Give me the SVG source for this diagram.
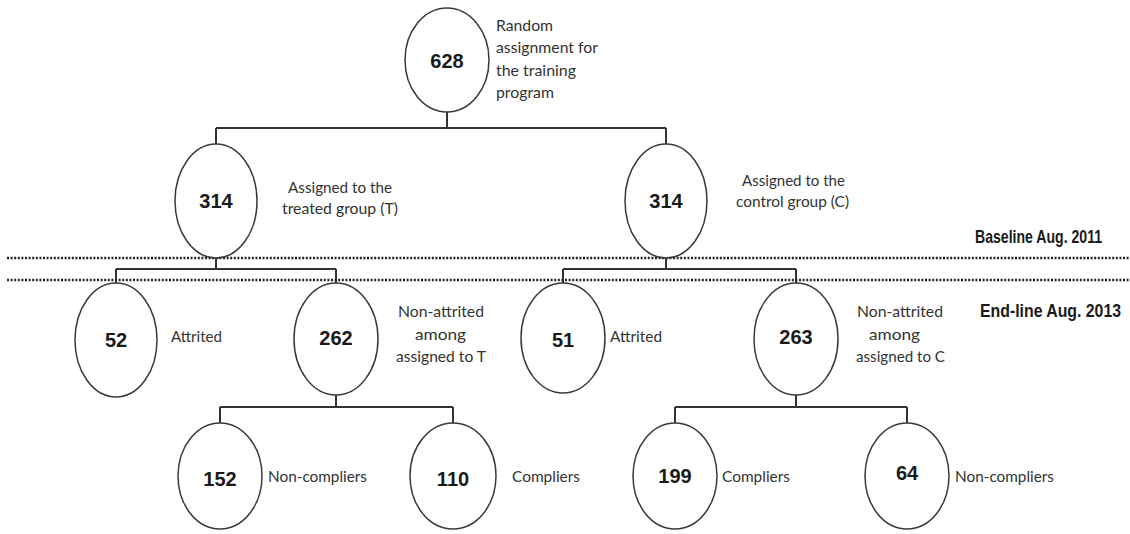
<svg xmlns="http://www.w3.org/2000/svg" width="1130" height="534" viewBox="0 0 1130 534">
<style>
.node ellipse{fill:#fff;stroke:#3a3a3a;stroke-width:1.5}
.num{font-family:"Liberation Sans",Arial,sans-serif;font-weight:bold;font-size:20px;fill:#1a1a1a;text-anchor:middle}
.lbl{font-family:Lato,"Liberation Sans",sans-serif;font-size:15px;fill:#333}
.period{font-family:"Liberation Sans",Arial,sans-serif;font-weight:bold;font-size:18px;fill:#1a1a1a}
.conn{stroke:#333;stroke-width:2;fill:none}
.dots{stroke:#222;stroke-width:2.5;stroke-dasharray:2 1.6;fill:none}
</style>
<rect width="1130" height="534" fill="#fff"/>
<g id="connectors">
<path class="conn" d="M447 112V128M216 128H666M216 128V144M666 128V144"/>
<path class="conn" d="M216 258V269M116 269H336M116 269V283M336 269V283"/>
<path class="conn" d="M666 258V269M563 269H796M563 269V283M796 269V283"/>
<path class="conn" d="M336 393V407M220 407H453M220 407V423M453 407V423"/>
<path class="conn" d="M796 393V407M675 407H907M675 407V423M907 407V423"/>
</g>
<g id="timeline">
<line class="dots" x1="7" y1="258" x2="1130" y2="258"/>
<line class="dots" x1="7" y1="280" x2="1130" y2="280"/>
<text class="period" transform="translate(975 243) scale(0.82 1)" x="0" y="0" textLength="155" lengthAdjust="spacingAndGlyphs">Baseline Aug. 2011</text>
<text class="period" transform="translate(980 317) scale(0.82 1)" x="0" y="0" textLength="172" lengthAdjust="spacingAndGlyphs">End-line Aug. 2013</text>
</g>
<g id="n628" class="node">
<ellipse cx="447" cy="60" rx="42" ry="52"/>
<text class="num" x="447" y="68">628</text>
<text class="lbl" x="496" y="31" textLength="57" lengthAdjust="spacingAndGlyphs">Random</text>
<text class="lbl" x="496" y="53" textLength="102" lengthAdjust="spacingAndGlyphs">assignment for</text>
<text class="lbl" x="496" y="76" textLength="80" lengthAdjust="spacingAndGlyphs">the training</text>
<text class="lbl" x="496" y="98" textLength="58" lengthAdjust="spacingAndGlyphs">program</text>
</g>
<g id="n314T" class="node">
<ellipse cx="216" cy="201" rx="41" ry="57"/>
<text class="num" x="216" y="208">314</text>
<text class="lbl" x="288" y="193" textLength="104" lengthAdjust="spacingAndGlyphs">Assigned to the</text>
<text class="lbl" x="282" y="214" textLength="116" lengthAdjust="spacingAndGlyphs">treated group (T)</text>
</g>
<g id="n314C" class="node">
<ellipse cx="666" cy="201" rx="41" ry="57"/>
<text class="num" x="666" y="208">314</text>
<text class="lbl" x="742" y="186" textLength="103" lengthAdjust="spacingAndGlyphs">Assigned to the</text>
<text class="lbl" x="736" y="207" textLength="113" lengthAdjust="spacingAndGlyphs">control group (C)</text>
</g>
<g id="n52" class="node">
<ellipse cx="116" cy="340" rx="41" ry="57"/>
<text class="num" x="116" y="347">52</text>
<text class="lbl" x="171" y="342" textLength="51" lengthAdjust="spacingAndGlyphs">Attrited</text>
</g>
<g id="n262" class="node">
<ellipse cx="336" cy="339" rx="42" ry="56"/>
<text class="num" x="336" y="345">262</text>
<text class="lbl" x="398" y="317" textLength="86" lengthAdjust="spacingAndGlyphs">Non-attrited</text>
<text class="lbl" x="415" y="340" textLength="51" lengthAdjust="spacingAndGlyphs">among</text>
<text class="lbl" x="396" y="362" textLength="90" lengthAdjust="spacingAndGlyphs">assigned to T</text>
</g>
<g id="n51" class="node">
<ellipse cx="563" cy="338" rx="42" ry="55"/>
<text class="num" x="563" y="347">51</text>
<text class="lbl" x="610" y="342" textLength="52" lengthAdjust="spacingAndGlyphs">Attrited</text>
</g>
<g id="n263" class="node">
<ellipse cx="796" cy="339" rx="42" ry="56"/>
<text class="num" x="796" y="344">263</text>
<text class="lbl" x="857" y="317" textLength="86" lengthAdjust="spacingAndGlyphs">Non-attrited</text>
<text class="lbl" x="869" y="340" textLength="51" lengthAdjust="spacingAndGlyphs">among</text>
<text class="lbl" x="856" y="362" textLength="89" lengthAdjust="spacingAndGlyphs">assigned to C</text>
</g>
<g id="n152" class="node">
<ellipse cx="220" cy="476" rx="42" ry="53"/>
<text class="num" x="220" y="486">152</text>
<text class="lbl" x="268" y="482" textLength="99" lengthAdjust="spacingAndGlyphs">Non-compliers</text>
</g>
<g id="n110" class="node">
<ellipse cx="453" cy="476" rx="43" ry="53"/>
<text class="num" x="453" y="486">110</text>
<text class="lbl" x="512" y="482" textLength="68" lengthAdjust="spacingAndGlyphs">Compliers</text>
</g>
<g id="n199" class="node">
<ellipse cx="675" cy="476" rx="42" ry="53"/>
<text class="num" x="675" y="483">199</text>
<text class="lbl" x="722" y="482" textLength="68" lengthAdjust="spacingAndGlyphs">Compliers</text>
</g>
<g id="n64" class="node">
<ellipse cx="907" cy="476" rx="42" ry="53"/>
<text class="num" x="907" y="480">64</text>
<text class="lbl" x="955" y="482" textLength="99" lengthAdjust="spacingAndGlyphs">Non-compliers</text>
</g>
</svg>
